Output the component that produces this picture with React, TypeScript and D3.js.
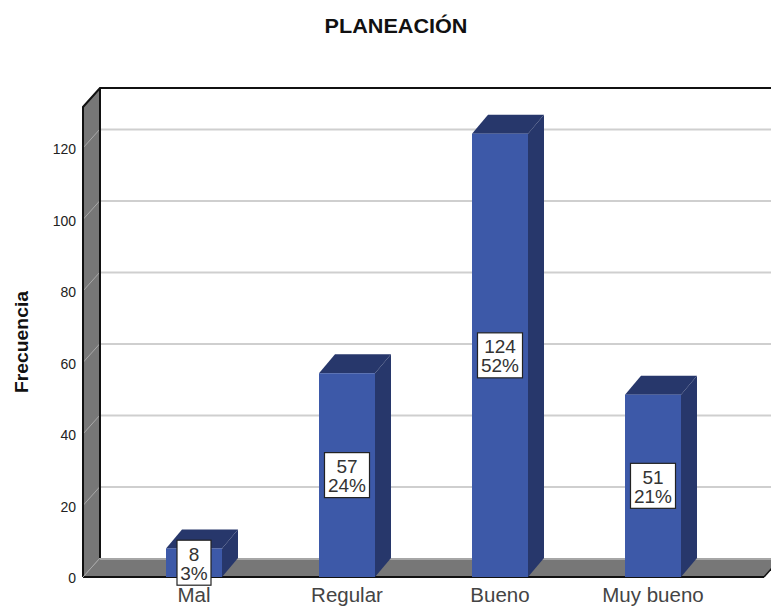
import React from "react";
import * as d3 from "d3";

// Survey results for the PLANEACIÓN dimension
const categories = ["Mal", "Regular", "Bueno", "Muy bueno"];
const counts = [8, 57, 124, 51];
const percents = ["3%", "24%", "52%", "21%"];
const ticks = [0, 20, 40, 60, 80, 100, 120];

const W = 771;
const H = 606;
const DX = 17; // oblique offset of the chart's back plane
const DY = -19;
const BAR_DX = 16;

const FONT = "'Liberation Sans', Arial, sans-serif";

export default function App() {
  const left = 83;
  const right = 764;
  const top = 107;
  const y = d3.scaleLinear().domain([0, 120]).range([577, 148]);
  const x = d3.scaleBand<string>().domain(categories).range([117.5, 729.5]).paddingInner(97 / 153).paddingOuter(97 / 306);
  const bottom = y(0);
  const poly = (pts: [number, number][]) => pts.map((p) => p.join(",")).join(" ");

  return (
    <svg width={W} height={H} viewBox={`0 0 ${W} ${H}`} style={{ position: "absolute", left: 0, top: 0, background: "#fff" }}>
      {/* Left wall and floor of the 3D frame */}
      <polygon points={poly([[left, top], [left + DX, top + DY], [left + DX, bottom + DY], [left, bottom]])} fill="#777" />
      <polygon points={poly([[left, bottom], [left + DX, bottom + DY], [right + DX, bottom + DY], [right, bottom]])} fill="#777" />
      <line x1={left + DX} x2={W} y1={bottom + DY + 1} y2={bottom + DY + 1} stroke="#a6a6a6" strokeWidth={2} />

      {/* Gridlines across the back wall and down the side wall */}
      {ticks.filter((t) => t > 0).map((t) => (
        <g key={t}>
          <line x1={left + DX} x2={W} y1={y(t) + DY + 0.5} y2={y(t) + DY + 0.5} stroke="#cfcfcf" strokeWidth={2} />
          <line x1={left} x2={left + DX} y1={y(t)} y2={y(t) + DY} stroke="#a8a8a8" strokeWidth={1} />
        </g>
      ))}

      {/* Frame outlines */}
      <polyline points={poly([[left, bottom], [left, top], [left + DX, top + DY], [W, top + DY]])} fill="none" stroke="#111" strokeWidth={2} />
      <line x1={left + DX} x2={left + DX} y1={top + DY} y2={bottom + DY} stroke="#111" strokeWidth={2} />
      <line x1={left} x2={right} y1={bottom} y2={bottom} stroke="#111" strokeWidth={2} />
      <line x1={right} x2={right + DX} y1={bottom} y2={bottom + DY} stroke="#111" strokeWidth={1.5} />
      <line x1={left} x2={left + DX} y1={bottom} y2={bottom + DY} stroke="#a8a8a8" strokeWidth={1} />

      {/* Bars */}
      {categories.map((c, i) => {
        const x0 = x(c)!;
        const x1 = x0 + x.bandwidth();
        const yt = y(counts[i]);
        return (
          <g key={c}>
            <polygon points={poly([[x1, yt], [x1 + BAR_DX, yt + DY], [x1 + BAR_DX, bottom + DY], [x1, bottom]])} fill="#27376b" />
            <polygon points={poly([[x0, yt], [x0 + BAR_DX, yt + DY], [x1 + BAR_DX, yt + DY], [x1, yt]])} fill="#27376b" />
            <rect x={x0} y={yt} width={x1 - x0} height={bottom - yt} fill="#3d59a8" />
          </g>
        );
      })}

      {/* Value boxes centred on each bar's height */}
      {categories.map((c, i) => {
        const cx = x(c)! + x.bandwidth() / 2;
        const cy = y(counts[i] / 2);
        const w = percents[i].length > 2 ? 45 : 34;
        return (
          <g key={c} fontFamily={FONT} fontSize={19} fill="#333" textAnchor="middle">
            <rect x={cx - w / 2} y={cy - 22.5} width={w} height={45} fill="#fff" stroke="#222" strokeWidth={1.2} />
            <text x={cx} y={cy - 2}>{counts[i]}</text>
            <text x={cx} y={cy + 17}>{percents[i]}</text>
          </g>
        );
      })}

      {/* Axis text */}
      {ticks.map((t) => (
        <text key={t} x={76} y={y(t) + 6} textAnchor="end" fontFamily={FONT} fontSize={14} fill="#222">{t}</text>
      ))}
      {categories.map((c) => (
        <text key={c} x={x(c)! + x.bandwidth() / 2} y={602} textAnchor="middle" fontFamily={FONT} fontSize={20.5} fill="#444">{c}</text>
      ))}
      <text transform="translate(28,342) rotate(-90)" textAnchor="middle" fontFamily={FONT} fontSize={19} fontWeight="bold" fill="#111" textLength={102} lengthAdjust="spacingAndGlyphs">Frecuencia</text>
      <text x={396} y={33} textAnchor="middle" fontFamily={FONT} fontSize={20} fontWeight="bold" fill="#111" textLength={143} lengthAdjust="spacingAndGlyphs">PLANEACIÓN</text>
    </svg>
  );
}
